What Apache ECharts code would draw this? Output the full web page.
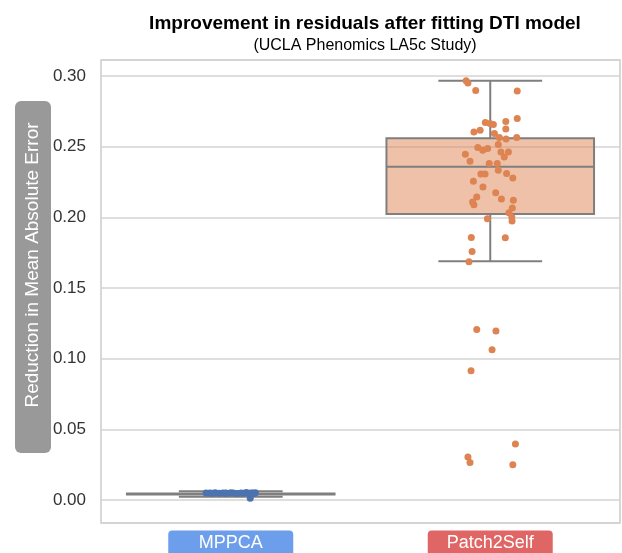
<!DOCTYPE html>
<html lang="en">
<head>
    <meta charset="UTF-8">
    <title>Improvement in residuals after fitting DTI model</title>
    <script src="https://cdn.jsdelivr.net/npm/echarts@6/dist/echarts.min.js"></script>
    <style>
        html, body { margin: 0; padding: 0; background: #fff; }
    </style>
</head>
<body>
    <div id="chart" style="width: 622px; height: 553px;"></div>

    <script>
        var chart = echarts.init(document.getElementById('chart'));

        var categories = ['MPPCA', 'Patch2Self'];
        var yTickValues = [0, 0.05, 0.10, 0.15, 0.20, 0.25, 0.30];

        // [min, q1, median, q3, max]
        var mppcaBox = [0.0022, 0.0038, 0.0042, 0.0046, 0.0062];
        var p2sBox = [0.1689, 0.2024, 0.2359, 0.2560, 0.2967];

        // strip points: value and horizontal jitter (in category units)
        var mppcaValues = [0.0050, 0.0049, 0.0051, 0.0048, 0.0050, 0.0047, 0.0051, 0.0049, 0.0046, 0.0050,
                           0.0048, 0.0052, 0.0047, 0.0049, 0.0050, 0.0045, 0.0048, 0.0051, 0.0012, 0.0049];
        var mppcaJitter = [-0.095, -0.08, -0.06, -0.045, -0.03, -0.015, 0, 0.01, 0.025, 0.04,
                           0.05, 0.06, 0.07, 0.078, 0.085, 0.09, -0.07, 0.095, 0.075, -0.02];

        var p2sValues = [0.2967, 0.2952, 0.2899, 0.2894, 0.2700, 0.2671, 0.2664, 0.2657, 0.2679, 0.2626,
                         0.2617, 0.2605, 0.2594, 0.2565, 0.2555, 0.2565, 0.2516, 0.2494, 0.2487, 0.2475,
                         0.2463, 0.2463, 0.2428, 0.2447, 0.2397, 0.2381, 0.2381, 0.2333, 0.2307, 0.2307,
                         0.2310, 0.2279, 0.2255, 0.2215, 0.2175, 0.2144, 0.2130, 0.2121, 0.2109, 0.2090,
                         0.2066, 0.2033, 0.2002, 0.1974, 0.1991, 0.1858, 0.1856, 0.1759, 0.1686, 0.1206,
                         0.1196, 0.1064, 0.0915, 0.0397, 0.0305, 0.0265, 0.0250];
        var p2sJitter = [-0.093, -0.086, -0.056, 0.104, 0.104, -0.019, -0.001, 0.012, 0.060, 0.060,
                         -0.039, -0.063, 0.016, 0.035, 0.061, 0.102, 0.031, -0.048, -0.010, -0.029,
                         0.041, 0.070, 0.054, -0.096, -0.078, -0.004, 0.027, 0.031, -0.036, -0.020,
                         0.063, 0.087, -0.065, -0.028, 0.021, -0.052, 0.043, 0.089, -0.068, -0.063,
                         0.085, 0.072, 0.083, 0.084, -0.011, -0.073, 0.058, -0.070, -0.082, -0.052,
                         0.022, 0.007, -0.074, 0.097, -0.086, -0.078, 0.087];

        var boxFills = ['rgba(76,114,176,0.5)', 'rgba(221,132,82,0.5)'];

        function strip(idx, values, jitter) {
            return values.map(function (v, i) { return [idx + jitter[i], v]; });
        }

        var boxData = [[0].concat(mppcaBox), [1].concat(p2sBox)];

        function renderBox(params, api) {
            var x = api.value(0);
            var lo = api.value(1), q1 = api.value(2), med = api.value(3), q3 = api.value(4), hi = api.value(5);
            var tl = api.coord([x - 0.4, q3]);
            var br = api.coord([x + 0.4, q1]);
            var c = api.coord([x, med]);
            var capL = api.coord([x - 0.2, hi])[0];
            var capR = api.coord([x + 0.2, hi])[0];
            var yHi = api.coord([x, hi])[1];
            var yLo = api.coord([x, lo])[1];
            var line = { stroke: '#7f7f7f', lineWidth: 2 };
            return {
                type: 'group',
                children: [
                    { type: 'line', shape: { x1: c[0], y1: tl[1], x2: c[0], y2: yHi }, style: line },
                    { type: 'line', shape: { x1: c[0], y1: br[1], x2: c[0], y2: yLo }, style: line },
                    { type: 'line', shape: { x1: capL, y1: yHi, x2: capR, y2: yHi }, style: line },
                    { type: 'line', shape: { x1: capL, y1: yLo, x2: capR, y2: yLo }, style: line },
                    { type: 'rect', shape: { x: tl[0], y: tl[1], width: br[0] - tl[0], height: br[1] - tl[1] },
                      style: { fill: boxFills[params.dataIndex], stroke: '#7f7f7f', lineWidth: 2 } },
                    { type: 'line', shape: { x1: tl[0], y1: c[1], x2: br[0], y2: c[1] }, style: line }
                ]
            };
        }

        chart.setOption({
            animation: false,
            textStyle: { fontFamily: 'Liberation Sans, Arial, sans-serif' },
            title: {
                text: 'Improvement in residuals after fitting DTI model',
                subtext: '(UCLA Phenomics LA5c Study)',
                left: 360,
                top: 9,
                textAlign: 'center',
                itemGap: 5,
                textStyle: { fontSize: 19, fontWeight: 'bold', color: '#000' },
                subtextStyle: { fontSize: 16, color: '#000' }
            },
            grid: {
                left: 101, right: 2, top: 60, bottom: 30,
                outerBoundsMode: 'none',
                containLabel: false,
                show: true, borderColor: '#cccccc', borderWidth: 1.5
            },
            graphic: [{
                type: 'group',
                children: [
                    { type: 'rect', shape: { x: 15, y: 101, width: 36, height: 352, r: 6 }, style: { fill: '#999999' } },
                    { type: 'text', x: 33, y: 265, rotation: Math.PI / 2,
                      style: { text: 'Reduction in Mean Absolute Error', fill: '#ffffff', font: '19px Liberation Sans, Arial, sans-serif',
                               align: 'center', verticalAlign: 'middle' } }
                ]
            }],
            xAxis: [{
                type: 'category',
                data: categories,
                axisLine: { show: false },
                axisTick: { show: false },
                axisLabel: {
                    margin: 11,
                    formatter: function (v, i) { return i === 0 ? '{a|' + v + '}' : '{b|' + v + '}'; },
                    rich: {
                        a: { backgroundColor: '#6d9eeb', color: '#fff', fontSize: 18, width: 125, align: 'center',
                             borderRadius: 4, padding: [4, 0, 5, 0], lineHeight: 20 },
                        b: { backgroundColor: '#e06666', color: '#fff', fontSize: 18, width: 125, align: 'center',
                             borderRadius: 4, padding: [4, 0, 5, 0], lineHeight: 20 }
                    }
                }
            }, {
                type: 'value',
                min: -0.5, max: 1.5,
                show: false
            }],
            yAxis: {
                type: 'value',
                min: -0.0163,
                max: 0.3114,
                splitNumber: 6,
                axisLine: { show: false },
                axisTick: { show: false },
                axisLabel: {
                    fontSize: 17, color: '#333', margin: 15,
                    formatter: function (v) {
                        for (var i = 0; i < yTickValues.length; i++) {
                            if (Math.abs(v - yTickValues[i]) < 1e-6) return yTickValues[i].toFixed(2);
                        }
                        return '';
                    }
                },
                splitLine: { lineStyle: { color: '#d3d3d3', width: 1.5 } }
            },
            series: [{
                type: 'custom',
                xAxisIndex: 1,
                renderItem: renderBox,
                encode: { x: 0, y: [1, 2, 3, 4, 5] },
                data: boxData,
                z: 2
            }, {
                type: 'scatter',
                xAxisIndex: 1,
                symbolSize: 7,
                itemStyle: { color: '#4c72b0', opacity: 1 },
                data: strip(0, mppcaValues, mppcaJitter),
                z: 3
            }, {
                type: 'scatter',
                xAxisIndex: 1,
                symbolSize: 7,
                itemStyle: { color: '#dd8452', opacity: 1 },
                data: strip(1, p2sValues, p2sJitter),
                z: 3
            }]
        });
    </script>
</body>
</html>
